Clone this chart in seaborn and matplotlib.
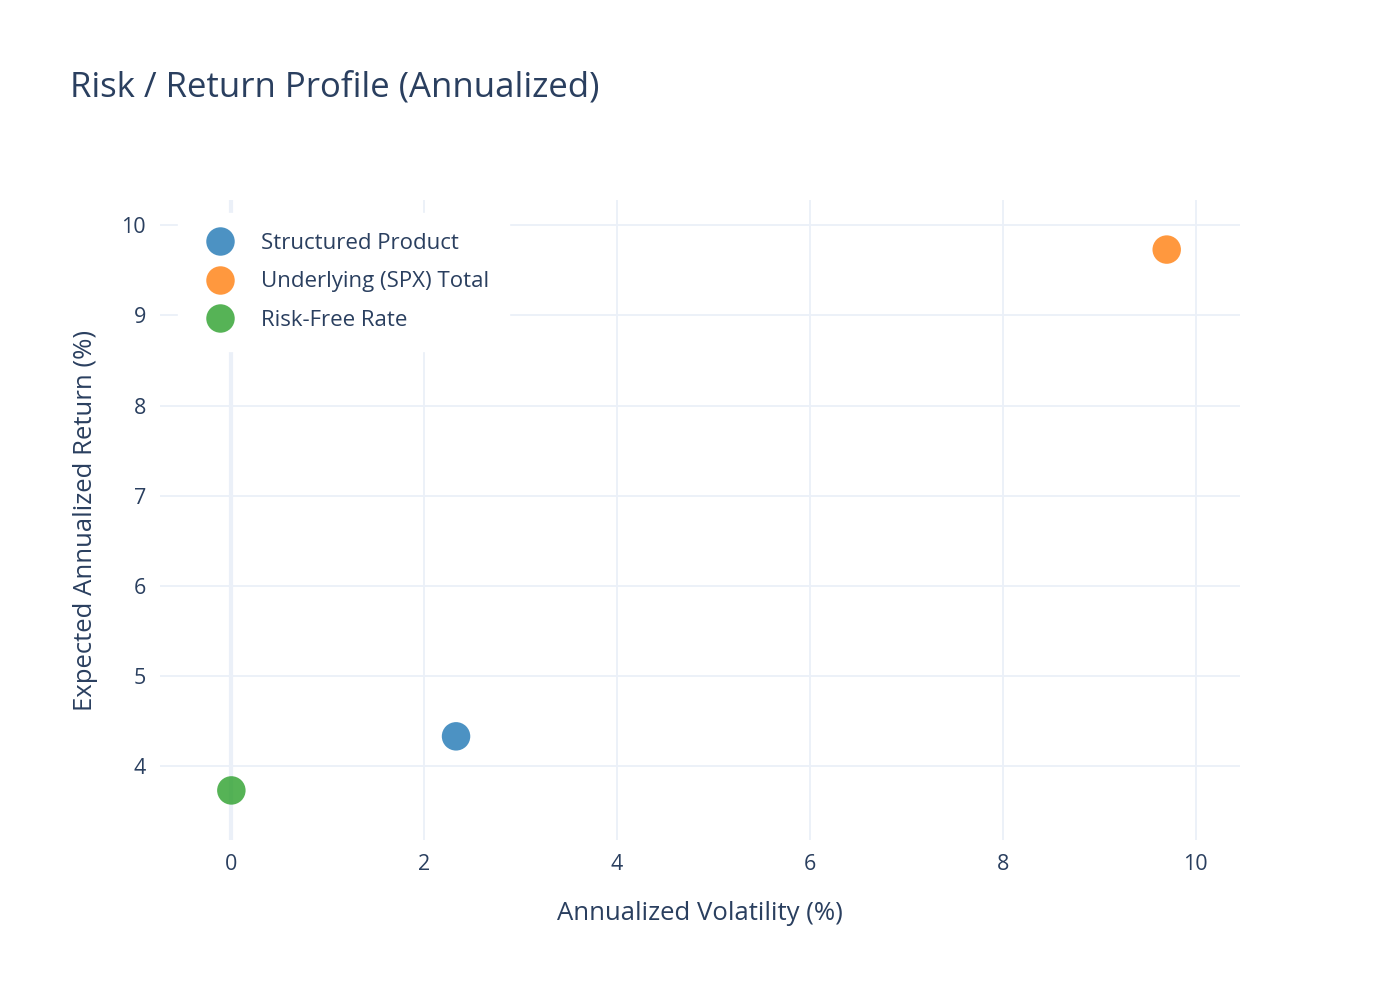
import pandas as pd
import numpy as np
from matplotlib import pyplot as plt
import seaborn as sns

series = ['Structured Product', 'Underlying (SPX) Total', 'Risk-Free Rate']
volatility = [2.33, 9.70, 0.0]
returns = [4.33, 9.73, 3.73]
colors = ['#1f77b4', '#ff7f0e', '#2ca02c']

df = pd.DataFrame({'series': series, 'vol': volatility, 'ret': returns})

sns.set_style('white')
plt.rcParams['font.family'] = ['Open Sans', 'DejaVu Sans']
text_col = '#2a3f5f'
grid_col = '#ebf0f8'

fig = plt.figure(figsize=(14, 10), dpi=100)
ax = fig.add_axes([160/1400, 160/1000, 1080/1400, 640/1000])

ax.set_xlim(-0.74, 10.46)
ax.set_ylim(3.18, 10.28)
ax.set_xticks([0, 2, 4, 6, 8, 10])
ax.set_yticks([4, 5, 6, 7, 8, 9, 10])
ax.grid(True, color=grid_col, linewidth=1.3)
ax.axvline(0, color=grid_col, linewidth=3, zorder=1)
ax.set_axisbelow(True)
for s in ax.spines.values():
    s.set_visible(False)

sns.scatterplot(data=df, x='vol', y='ret', hue='series', hue_order=series,
                palette=colors, s=420, alpha=0.8, edgecolor='none', ax=ax, zorder=3)

ax.tick_params(axis='both', length=0, labelsize=15.5, labelcolor=text_col, pad=10)
ax.set_xlabel('Annualized Volatility (%)', fontsize=18.5, color=text_col, labelpad=19)
ax.set_ylabel('Expected Annualized Return (%)', fontsize=18.5, color=text_col, labelpad=17)

leg = ax.legend(loc='upper left', bbox_to_anchor=(0.006, 0.997), frameon=True, fontsize=16,
                labelcolor=text_col, handletextpad=0.85, borderpad=0.9, labelspacing=0.78,
                markerscale=1.0)
leg.get_frame().set_facecolor('white')
leg.get_frame().set_edgecolor('white')
leg.get_frame().set_alpha(1.0)
leg.get_frame().set_boxstyle('square', pad=0.0)

fig.text(70/1400, 1 - 88/1000, 'Risk / Return Profile (Annualized)', fontsize=25,
         color=text_col, va='center', ha='left')

fig.savefig('out.png', dpi=100, facecolor='white')
